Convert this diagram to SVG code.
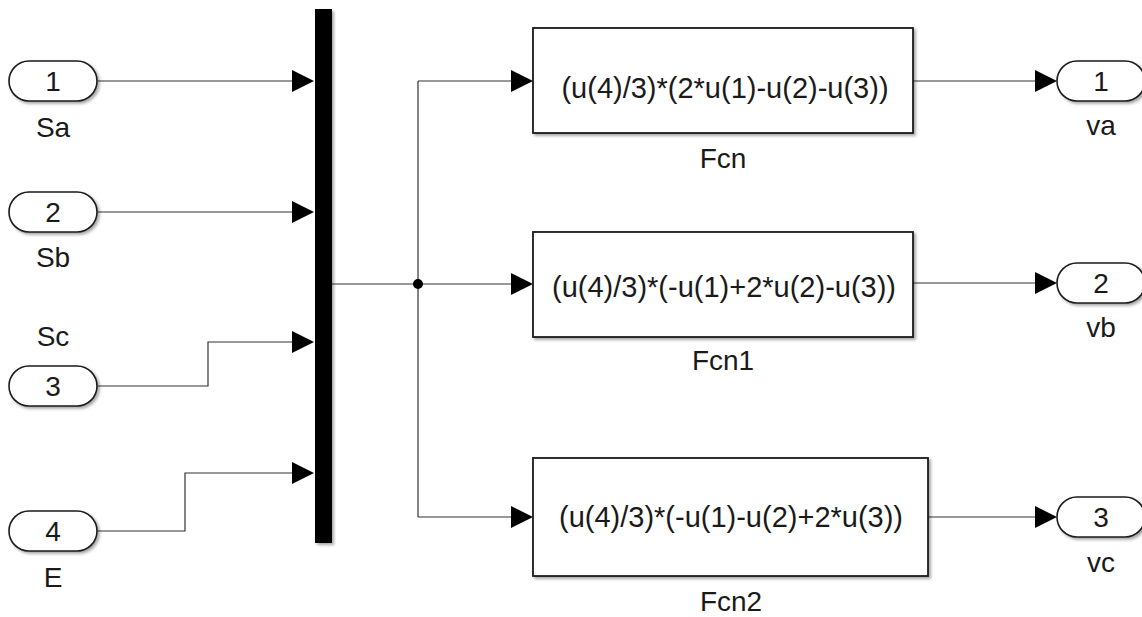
<svg xmlns="http://www.w3.org/2000/svg" width="1142" height="617" viewBox="0 0 1142 617">
  <style>
    .port { fill: #ffffff; stroke: #1a1a1a; stroke-width: 1.6; filter: url(#shadow); }
    .block { fill: #ffffff; stroke: #1a1a1a; stroke-width: 1.8; filter: url(#shadow); }
    .bus { fill: #000000; filter: url(#shadow); }
    .wire { fill: none; stroke: #333333; stroke-width: 1.2; }
    .head { fill: #000000; }
    .txt { font-family: "Liberation Sans", Arial, sans-serif; font-size: 28px; fill: #1a1a1a; text-anchor: middle; }
    .expr { font-family: "Liberation Sans", Arial, sans-serif; font-size: 29px; fill: #1a1a1a; text-anchor: middle; }
  </style>
  <defs>
    <filter id="shadow" x="-10%" y="-10%" width="130%" height="130%">
      <feDropShadow dx="2" dy="2" stdDeviation="1.5" flood-color="#000000" flood-opacity="0.35"/>
    </filter>
    <polygon id="arrow" class="head" points="-22,-11 0,0 -22,11"/>
  </defs>

  <rect width="1142" height="617" fill="#ffffff"/>

  <!-- signal lines -->
  <g id="connectors">
    <path class="wire" d="M98,81 H294"/>
    <path class="wire" d="M98,212 H294"/>
    <path class="wire" d="M98,386 H208 V342 H294"/>
    <path class="wire" d="M98,531 H185 V473 H294"/>
    <path class="wire" d="M332,284 H513"/>
    <path class="wire" d="M418,81 V517"/>
    <path class="wire" d="M418,81 H513"/>
    <path class="wire" d="M418,517 H513"/>
    <path class="wire" d="M913,81 H1037"/>
    <path class="wire" d="M913,283 H1037"/>
    <path class="wire" d="M928,517 H1037"/>
    <circle cx="418" cy="284" r="5" fill="#000000"/>
    <use href="#arrow" x="314" y="81"/>
    <use href="#arrow" x="314" y="212"/>
    <use href="#arrow" x="314" y="342"/>
    <use href="#arrow" x="314" y="473"/>
    <use href="#arrow" x="533" y="81"/>
    <use href="#arrow" x="533" y="284"/>
    <use href="#arrow" x="533" y="517"/>
    <use href="#arrow" x="1057" y="81"/>
    <use href="#arrow" x="1057" y="283"/>
    <use href="#arrow" x="1057" y="517"/>
  </g>

  <!-- input ports -->
  <g id="in_Sa">
    <rect class="port" x="9" y="61" width="88" height="40" rx="20"/>
    <text class="txt" x="53" y="91">1</text>
    <text class="txt" x="53" y="137">Sa</text>
  </g>
  <g id="in_Sb">
    <rect class="port" x="9" y="192" width="88" height="40" rx="20"/>
    <text class="txt" x="53" y="222">2</text>
    <text class="txt" x="53" y="267">Sb</text>
  </g>
  <g id="in_Sc">
    <rect class="port" x="9" y="366" width="88" height="40" rx="20"/>
    <text class="txt" x="53" y="396">3</text>
    <text class="txt" x="53" y="346">Sc</text>
  </g>
  <g id="in_E">
    <rect class="port" x="9" y="511" width="88" height="40" rx="20"/>
    <text class="txt" x="53" y="541">4</text>
    <text class="txt" x="53" y="587">E</text>
  </g>

  <!-- mux bus -->
  <g id="mux">
    <rect class="bus" x="315" y="9" width="17" height="534"/>
  </g>

  <!-- function blocks -->
  <g id="Fcn">
    <rect class="block" x="533" y="28" width="380" height="105"/>
    <text class="expr" x="725" y="98">(u(4)/3)*(2*u(1)-u(2)-u(3))</text>
    <text class="txt" x="723" y="168">Fcn</text>
  </g>
  <g id="Fcn1">
    <rect class="block" x="533" y="232" width="380" height="105"/>
    <text class="expr" x="724" y="297">(u(4)/3)*(-u(1)+2*u(2)-u(3))</text>
    <text class="txt" x="723" y="370">Fcn1</text>
  </g>
  <g id="Fcn2">
    <rect class="block" x="533" y="458" width="395" height="118"/>
    <text class="expr" x="731" y="527">(u(4)/3)*(-u(1)-u(2)+2*u(3))</text>
    <text class="txt" x="731" y="611">Fcn2</text>
  </g>

  <!-- output ports -->
  <g id="out_va">
    <rect class="port" x="1057" y="61" width="88" height="40" rx="20"/>
    <text class="txt" x="1101" y="91">1</text>
    <text class="txt" x="1101" y="135">va</text>
  </g>
  <g id="out_vb">
    <rect class="port" x="1057" y="263" width="88" height="40" rx="20"/>
    <text class="txt" x="1101" y="293">2</text>
    <text class="txt" x="1101" y="337">vb</text>
  </g>
  <g id="out_vc">
    <rect class="port" x="1057" y="497" width="88" height="40" rx="20"/>
    <text class="txt" x="1101" y="527">3</text>
    <text class="txt" x="1101" y="572">vc</text>
  </g>
</svg>
